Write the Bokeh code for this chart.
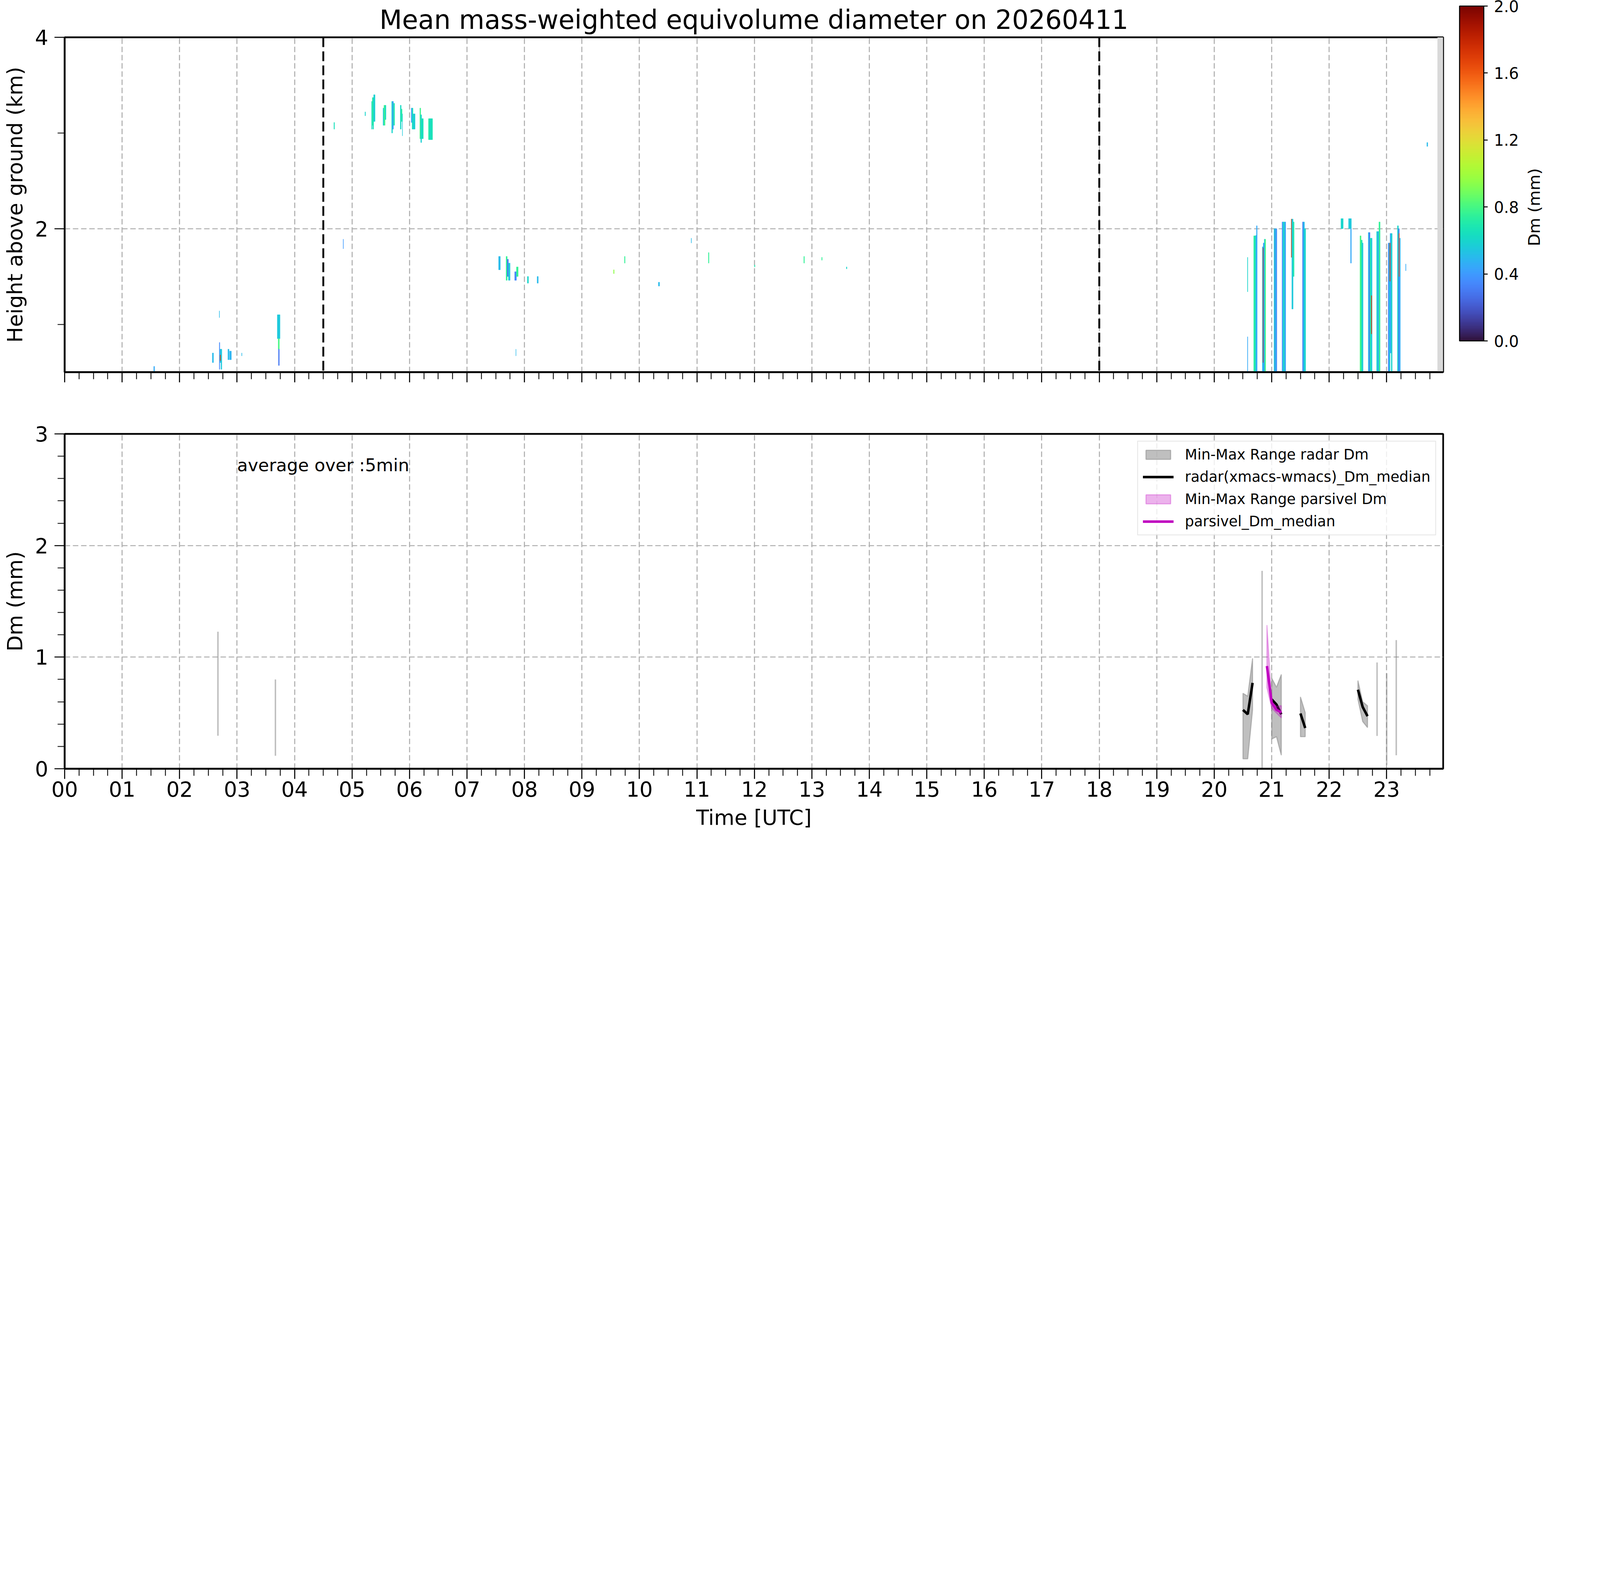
import math
from bokeh.plotting import figure
from bokeh.models import (Range1d, FixedTicker, LinearColorMapper, ColorBar, Span, Label,
                          Legend, LegendItem, PrintfTickFormatter, ColumnDataSource)
from bokeh.core.properties import value
from bokeh.palettes import Turbo256
from bokeh.layouts import column, row
from bokeh.embed import file_html
from bokeh.resources import INLINE

FONT = "DejaVu Sans"
NAN = float("nan")
S = 0.535  # overall scale so that the page fits the browser viewport


def px(v):
    return "%.1fpx" % (v * S)


def sz(v):
    return v * S


# ---------------- data ----------------
title_text = "Mean mass-weighted equivolume diameter on 20260411"
hour_labels = ["%02d" % h for h in range(24)]
time_end = 23.983
height_range = [0.5, 4.0]
dm_range = [0.0, 3.0]
event_marks = [4.5, 18.0]
mask_start = [23.883]
cb_ticks = [0.0, 0.4, 0.8, 1.2, 1.6, 2.0]
cb_label = "Dm (mm)"

# radar Dm cells (time start/end in h, height bottom/top in km, Dm in mm)
cell_t0 = [1.550, 2.570, 2.690, 2.700, 2.705, 2.720, 2.690, 2.840, 2.870, 3.080, 3.700, 3.715, 3.720,
           4.685, 5.225, 5.340, 5.352, 5.364, 5.376, 5.540, 5.555, 5.575, 5.690, 5.705, 5.720,
           5.840, 5.855, 5.875, 6.030, 6.045, 6.060, 6.180, 6.195, 6.210, 6.330, 6.350, 6.370,
           4.845, 7.550, 7.680, 7.700, 7.720, 7.830, 7.860, 8.050, 8.220, 7.850, 9.550, 9.740,
           10.330, 10.900, 11.200, 12.000, 12.860, 13.170, 13.600,
           20.578, 20.578, 20.687, 20.705, 20.723, 20.735,
           20.837, 20.853, 20.870, 20.883, 20.849,
           21.040, 21.052, 21.060, 21.078,
           21.180, 21.192, 21.206, 21.222,
           21.340, 21.350, 21.372,
           21.536, 21.550, 21.570,
           22.205, 22.337, 22.372,
           22.536, 22.555, 22.575,
           22.680, 22.695, 22.710, 22.730, 22.733,
           22.825, 22.845, 22.865,
           23.027, 23.045, 23.060, 23.080, 23.055,
           23.187, 23.205, 23.220, 23.214,
           23.330, 23.700]
cell_t1 = [1.565, 2.590, 2.700, 2.720, 2.712, 2.735, 2.695, 2.860, 2.900, 3.085, 3.747, 3.735, 3.735,
           4.695, 5.235, 5.352, 5.364, 5.376, 5.400, 5.555, 5.575, 5.590, 5.705, 5.720, 5.740,
           5.855, 5.870, 5.879, 6.045, 6.060, 6.097, 6.195, 6.210, 6.240, 6.350, 6.370, 6.400,
           4.850, 7.580, 7.700, 7.720, 7.750, 7.860, 7.890, 8.070, 8.240, 7.853, 9.560, 9.750,
           10.350, 10.905, 11.210, 12.010, 12.870, 13.180, 13.610,
           20.584, 20.584, 20.705, 20.723, 20.735, 20.747,
           20.853, 20.870, 20.883, 20.895, 20.853,
           21.052, 21.060, 21.078, 21.090,
           21.192, 21.206, 21.222, 21.244,
           21.350, 21.372, 21.390,
           21.550, 21.570, 21.590,
           22.244, 22.386, 22.386,
           22.555, 22.575, 22.590,
           22.695, 22.710, 22.730, 22.747, 22.741,
           22.845, 22.865, 22.886,
           23.045, 23.060, 23.080, 23.096, 23.062,
           23.205, 23.220, 23.238, 23.221,
           23.336, 23.715]
cell_h0 = [0.51, 0.60, 0.53, 0.60, 0.62, 0.53, 1.07, 0.63, 0.63, 0.67, 0.85, 0.74, 0.57,
           3.04, 3.18, 3.04, 3.08, 3.04, 3.12, 3.08, 3.08, 3.14, 3.00, 3.04, 3.08,
           3.04, 3.12, 2.97, 3.11, 3.04, 3.04, 2.94, 2.90, 2.94, 2.93, 2.93, 2.93,
           1.79, 1.57, 1.46, 1.50, 1.46, 1.46, 1.50, 1.43, 1.43, 0.67, 1.53, 1.64,
           1.40, 1.85, 1.64, 1.60, 1.64, 1.67, 1.58,
           1.34, 0.50, 0.50, 0.50, 0.50, 0.50,
           0.50, 0.50, 0.50, 0.50, 0.60,
           0.50, 0.50, 0.50, 0.50,
           0.50, 0.50, 0.50, 0.50,
           1.70, 1.16, 1.50,
           0.50, 0.50, 0.50,
           2.00, 2.00, 1.64,
           0.50, 0.50, 0.50,
           0.50, 0.50, 0.50, 0.50, 0.90,
           0.50, 0.50, 0.50,
           0.50, 0.50, 0.70, 0.50, 1.45,
           0.50, 0.50, 0.50, 1.50,
           1.56, 2.86]
cell_h1 = [0.56, 0.70, 0.81, 0.74, 0.68, 0.74, 1.14, 0.74, 0.72, 0.70, 1.10, 0.85, 0.74,
           3.11, 3.22, 3.33, 3.37, 3.37, 3.40, 3.26, 3.29, 3.29, 3.33, 3.33, 3.31,
           3.29, 3.25, 3.20, 3.26, 3.26, 3.20, 3.26, 3.19, 3.15, 3.15, 3.15, 3.15,
           1.89, 1.71, 1.71, 1.68, 1.64, 1.55, 1.60, 1.50, 1.50, 0.74, 1.57, 1.71,
           1.44, 1.90, 1.75, 1.62, 1.71, 1.70, 1.60,
           1.70, 0.87, 1.925, 1.925, 1.93, 2.03,
           1.81, 1.85, 1.89, 1.89, 1.80,
           2.00, 2.00, 2.00, 2.00,
           2.07, 2.07, 2.07, 2.07,
           2.10, 2.10, 2.07,
           2.07, 2.07, 2.00,
           2.105, 2.105, 2.00,
           1.925, 1.88, 1.85,
           1.96, 1.96, 1.90, 1.90, 1.30,
           1.97, 1.97, 2.07,
           1.85, 1.85, 1.95, 1.95, 1.85,
           2.03, 2.00, 1.90, 1.95,
           1.63, 2.90]
cell_dm = [0.45, 0.50, 0.35, 0.50, 1.70, 0.55, 0.50, 0.50, 0.48, 0.50, 0.55, 0.80, 0.30,
           0.65, 0.60, 0.62, 0.75, 0.65, 0.58, 0.55, 0.78, 0.62, 0.60, 0.40, 0.68,
           0.62, 0.72, 0.55, 0.40, 0.65, 0.58, 0.78, 0.58, 0.65, 0.72, 0.62, 0.66,
           0.40, 0.50, 0.75, 0.30, 0.55, 0.35, 0.75, 0.60, 0.50, 0.50, 0.95, 0.75,
           0.50, 0.50, 0.75, 0.70, 0.75, 0.75, 0.60,
           0.60, 0.45, 0.72, 0.68, 0.50, 0.45,
           0.50, 0.40, 0.55, 0.80, 1.75,
           0.60, 0.30, 0.50, 0.35,
           0.35, 0.50, 0.65, 0.45,
           1.70, 0.55, 0.70,
           0.30, 0.50, 0.60,
           0.60, 0.55, 0.45,
           0.80, 0.70, 0.55,
           0.50, 0.30, 0.70, 0.55, 1.70,
           0.60, 0.45, 0.75,
           0.35, 0.55, 0.45, 0.60, 1.70,
           0.60, 0.30, 0.45, 1.60,
           0.45, 0.50]

# 5-min statistics, bottom panel (time in h, Dm in mm)
radar_time = [2.667, 3.667, 20.500, 20.583, 20.667, 20.833, 21.000, 21.083, 21.167,
              21.500, 21.583, 22.500, 22.583, 22.667, 22.833, 23.000, 23.167]
radar_min = [0.296, 0.116, 0.089, 0.089, 0.527, 0.000, 0.266, 0.287, 0.121,
             0.287, 0.287, 0.622, 0.423, 0.369, 0.294, 0.035, 0.121]
radar_max = [1.228, 0.800, 0.676, 0.650, 0.989, 1.773, 0.812, 0.730, 0.845,
             0.644, 0.503, 0.790, 0.600, 0.564, 0.952, 0.855, 1.153]
radar_med = [NAN, NAN, 0.527, 0.488, 0.769, NAN, 0.622, 0.575, 0.488,
             0.495, 0.365, 0.708, 0.553, 0.471, NAN, NAN, NAN]

pars_time = [20.917, 21.000, 21.083, 21.167]
pars_min = [0.726, 0.542, 0.499, 0.456]
pars_max = [1.287, 0.600, 0.560, 0.565]
pars_med = [0.920, 0.592, 0.527, 0.505]

note_text = "average over :5min"
note_pos = [3.0, 2.72]

# ---------------- helpers ----------------
STEP = 5.0 / 60.0 + 0.01


def segments(t):
    segs, cur = [], [0]
    for i in range(1, len(t)):
        if t[i] - t[i - 1] <= STEP:
            cur.append(i)
        else:
            segs.append(cur)
            cur = [i]
    segs.append(cur)
    return segs


def style_axes(p):
    for ax in (p.xaxis[0], p.yaxis[0]):
        ax.axis_line_width = sz(8)
        ax.axis_line_color = "black"
        ax.major_tick_out = round(sz(48))
        ax.major_tick_in = 0
        ax.minor_tick_out = round(sz(34))
        ax.minor_tick_in = 0
        ax.major_tick_line_width = sz(5)
        ax.minor_tick_line_width = sz(4)
        ax.major_tick_line_color = "black"
        ax.minor_tick_line_color = "black"
        ax.major_label_text_font = FONT
        ax.major_label_text_font_size = px(100)
        ax.major_label_text_color = "black"
        ax.axis_label_text_font = FONT
        ax.axis_label_text_font_size = px(100)
        ax.axis_label_text_font_style = "normal"
        ax.axis_label_text_color = "black"
    p.outline_line_color = "black"
    p.outline_line_width = sz(8)
    p.outline_line_alpha = 1.0
    for g in (p.xgrid[0], p.ygrid[0]):
        g.grid_line_color = "#b0b0b0"
        g.grid_line_width = sz(5)
        g.grid_line_dash = "14 7"


hour_ticks = list(range(24))
quarter_ticks = [h + q * 0.25 for h in range(24) for q in (1, 2, 3)]

FW, FH = round(sz(6596)), round(sz(1602))
B_LEFT = round(sz(309))
B_TOP1, B_BOT1 = round(sz(178)), round(sz(150))
B_RIGHT1 = 10          # top panel ends just right of its frame
CBW = 330              # strip holding colour bar and its label

# ---------------- top panel ----------------
mapper = LinearColorMapper(palette=Turbo256, low=0.0, high=2.0)

p1 = figure(frame_width=FW, frame_height=FH, min_border_left=B_LEFT,
            min_border_right=B_RIGHT1, min_border_top=B_TOP1, min_border_bottom=B_BOT1,
            x_range=Range1d(0, time_end), y_range=Range1d(height_range[0], height_range[1]),
            output_backend="svg", toolbar_location=None)
p1.title.text = title_text
p1.title.align = "center"
p1.title.text_font = FONT
p1.title.text_font_size = px(125)
p1.title.text_font_style = "normal"
p1.title.text_color = "black"
p1.title.standoff = round(sz(20))

cells = ColumnDataSource(dict(t0=cell_t0, t1=cell_t1, h0=cell_h0, h1=cell_h1, dm=cell_dm))
p1.quad(left="t0", right="t1", bottom="h0", top="h1", source=cells,
        fill_color={"field": "dm", "transform": mapper},
        line_color={"field": "dm", "transform": mapper}, line_width=0.8)

p1.quad(left=mask_start, right=[time_end], bottom=[height_range[0]], top=[height_range[1]],
        fill_color="#d9d9d9", line_color=None)

for v in event_marks:
    p1.add_layout(Span(location=v, dimension="height", line_color="black",
                       line_dash="25 11", line_width=sz(9)))

p1.xaxis.ticker = FixedTicker(ticks=hour_ticks, minor_ticks=quarter_ticks)
p1.xgrid.ticker = FixedTicker(ticks=hour_ticks)
p1.yaxis.ticker = FixedTicker(ticks=[2, 4], minor_ticks=[1, 3])
p1.ygrid.ticker = FixedTicker(ticks=[2, 4])
p1.yaxis.axis_label = "Height above ground (km)"
style_axes(p1)
p1.xaxis.major_label_overrides = {h: "" for h in hour_ticks}
p1.xaxis.major_label_standoff = 0
p1.yaxis.major_label_standoff = round(sz(30))
p1.yaxis.axis_label_standoff = round(sz(30))

# ---------------- colour-bar strip (right of the top panel) ----------------
H1 = B_TOP1 + FH + B_BOT1
pc = figure(width=CBW, height=H1, min_border=0, x_range=Range1d(0, CBW), y_range=Range1d(0, H1),
            x_axis_location=None, y_axis_location=None, output_backend="svg",
            toolbar_location=None)
pc.outline_line_color = None
pc.xgrid.visible = False
pc.ygrid.visible = False

cb = ColorBar(color_mapper=mapper, ticker=FixedTicker(ticks=cb_ticks),
              formatter=PrintfTickFormatter(format="%.1f"),
              width=round(sz(116)), height=FH, padding=0, margin=0,
              location=(round(sz(78)) - B_RIGHT1, B_BOT1),
              major_tick_out=round(sz(19)), major_tick_in=0, major_tick_line_color="black",
              major_tick_line_width=sz(5), minor_tick_line_color=None,
              bar_line_color="black", bar_line_width=sz(5),
              major_label_text_font=FONT, major_label_text_font_size=px(75),
              major_label_text_color="black",
              label_standoff=round(sz(30)), border_line_color=None,
              background_fill_color=None)
pc.add_layout(cb)

pc.text(x=[sz(435) - B_RIGHT1], y=[H1 - B_TOP1 - FH / 2.0], text=[cb_label], angle=math.pi / 2,
        text_align="center", text_baseline="middle", text_font=value(FONT),
        text_font_size=px(78), text_color="black")

# ---------------- bottom panel ----------------
p2 = figure(frame_width=FW, frame_height=FH, min_border_left=B_LEFT,
            min_border_right=B_RIGHT1 + CBW, min_border_top=round(sz(146)),
            min_border_bottom=round(sz(320)),
            x_range=Range1d(0, time_end), y_range=Range1d(dm_range[0], dm_range[1]),
            output_backend="svg", toolbar_location=None)

r_xs, r_ys, s_t, s_lo, s_hi = [], [], [], [], []
med_x, med_y = [], []
for seg in segments(radar_time):
    if len(seg) == 1:
        i = seg[0]
        s_t.append(radar_time[i]); s_lo.append(radar_min[i]); s_hi.append(radar_max[i])
    else:
        ts = [radar_time[i] for i in seg]
        r_xs.append(ts + ts[::-1])
        r_ys.append([radar_max[i] for i in seg] + [radar_min[i] for i in seg][::-1])
        med_x += ts + [NAN]
        med_y += [radar_med[i] for i in seg] + [NAN]

r_fill = p2.patches(xs=r_xs, ys=r_ys, fill_color="gray", fill_alpha=0.5,
                    line_color="gray", line_alpha=0.5, line_width=sz(5))
p2.segment(x0=s_t, y0=s_lo, x1=s_t, y1=s_hi, line_color="gray", line_alpha=0.5,
           line_width=sz(7))
r_med = p2.line(med_x, med_y, line_color="black", line_width=sz(12))

p_fill = p2.patch(x=pars_time + pars_time[::-1], y=pars_max + pars_min[::-1],
                  fill_color="#BF00BF", fill_alpha=0.3, line_color="#BF00BF",
                  line_alpha=0.3, line_width=sz(5))
p_med = p2.line(pars_time, pars_med, line_color="#BF00BF", line_width=sz(12))

p2.add_layout(Label(x=note_pos[0], y=note_pos[1], text=note_text, text_font=FONT,
                    text_font_size=px(84), text_baseline="alphabetic", text_color="black"))

legend = Legend(items=[LegendItem(label="Min-Max Range radar Dm", renderers=[r_fill]),
                       LegendItem(label="radar(xmacs-wmacs)_Dm_median", renderers=[r_med]),
                       LegendItem(label="Min-Max Range parsivel Dm", renderers=[p_fill]),
                       LegendItem(label="parsivel_Dm_median", renderers=[p_med])],
                location="top_right")
legend.label_text_font = FONT
legend.label_text_font_size = px(69)
legend.label_text_color = "black"
legend.glyph_width = round(sz(148))
legend.glyph_height = round(sz(54))
legend.label_height = round(sz(77))
legend.label_standoff = round(sz(54))
legend.padding = round(sz(22))
legend.spacing = round(sz(26))
legend.margin = round(sz(34))
legend.border_line_color = "#cccccc"
legend.border_line_width = sz(5)
legend.background_fill_alpha = 0.8
p2.add_layout(legend)

p2.xaxis.ticker = FixedTicker(ticks=hour_ticks, minor_ticks=quarter_ticks)
p2.xaxis.major_label_overrides = {h: hour_labels[h] for h in hour_ticks}
p2.xgrid.ticker = FixedTicker(ticks=hour_ticks)
p2.yaxis.ticker = FixedTicker(ticks=[0, 1, 2, 3],
                              minor_ticks=[k / 5.0 for k in range(1, 15) if k % 5])
p2.ygrid.ticker = FixedTicker(ticks=[0, 1, 2, 3])
p2.xaxis.axis_label = "Time [UTC]"
p2.yaxis.axis_label = "Dm (mm)"
style_axes(p2)
p2.xaxis.major_label_standoff = round(sz(12))
p2.xaxis.axis_label_standoff = round(sz(35))
p2.yaxis.major_label_standoff = round(sz(30))
p2.yaxis.axis_label_standoff = round(sz(30))

layout = column(row(p1, pc), p2)
open("out.html", "w").write(file_html(layout, INLINE, title="Dm"))
